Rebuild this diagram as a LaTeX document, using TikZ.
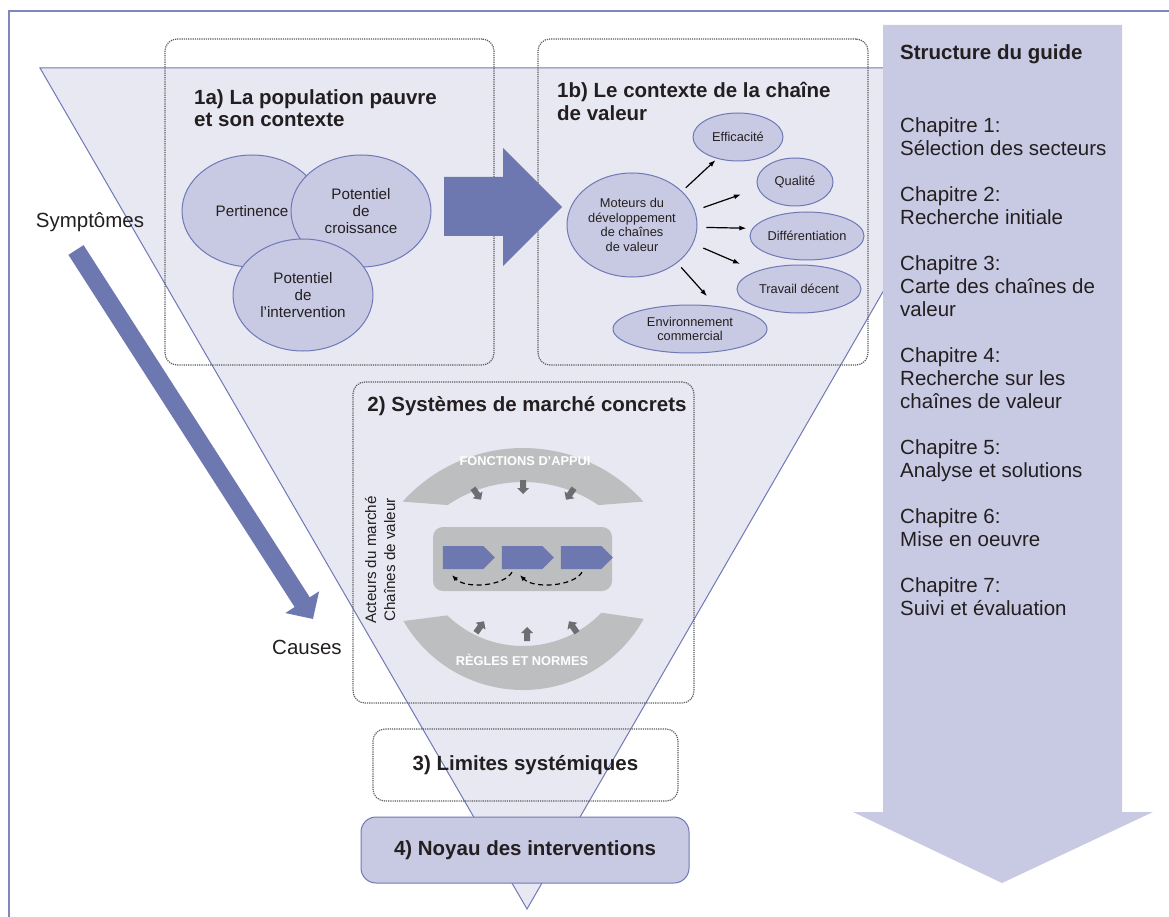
\documentclass[tikz,border=0pt]{standalone}
\usepackage{fontspec}
\setmainfont{Liberation Sans}
\usepackage{tikz, xcolor}
\usetikzlibrary{shapes,arrows.meta}

\definecolor{frameblue}{RGB}{128,134,190}
\definecolor{funnelfill}{RGB}{232,232,243}
\definecolor{funnelline}{RGB}{111,121,181}
\definecolor{lav}{RGB}{200,201,227}
\definecolor{arrowblue}{RGB}{109,120,176}
\definecolor{bandgray}{RGB}{189,190,192}
\definecolor{smallarr}{RGB}{109,110,113}
\definecolor{dotgray}{RGB}{88,89,91}
\definecolor{txt}{RGB}{35,31,32}

\begin{document}
\begin{tikzpicture}[x=1pt, y=-1pt, text=txt, font=\fontsize{20.5}{22.5}\selectfont]
\tikzstyle{boxd}=[rectangle, draw=dotgray, densely dotted, line width=1.2pt, rounded corners=12pt]
\tikzstyle{ellbig}=[ellipse, draw=funnelline, fill=lav, line width=1pt, inner sep=0pt, minimum width=140pt, minimum height=112pt, align=center, font=\fontsize{15.2}{17}\selectfont]
\tikzstyle{ellsmall}=[ellipse, draw=funnelline, fill=lav, line width=1pt, inner sep=0pt, minimum height=48pt, align=center, font=\fontsize{12.8}{14.5}\selectfont]
\tikzstyle{drawstyle}=[line width=1.2pt, -{Latex[length=7pt,width=5pt]}]
\tikzstyle{loopstyle}=[dash pattern=on 5pt off 3.5pt, line width=1.2pt, -{Latex[length=6pt,width=5pt]}]
\tikzstyle{chev}=[signal, signal to=east, fill=arrowblue, minimum width=52pt, minimum height=23pt, inner sep=0pt]
\tikzstyle{bandlabel}=[text=white, font=\fontsize{12.8}{14.5}\selectfont\bfseries]
\tikzstyle{titlestyle}=[font=\fontsize{20.5}{22.5}\selectfont\bfseries]

\useasboundingbox (0,0) rectangle (1169,917);
\clip (0,0) rectangle (1169,917);

% frame, funnel and guide arrow
\draw[frameblue, line width=2pt] (9,11) rectangle (1190,940);
\filldraw[fill=funnelfill, draw=funnelline, line width=1pt] (40,68) -- (1012,68) -- (527,909) -- cycle;
\fill[lav] (883,25) -- (1122,25) -- (1122,812) -- (1153,812) -- (1002,883) -- (853,812) -- (883,812) -- cycle;

% dotted boxes
\node[boxd, minimum width=329pt, minimum height=326pt] (B1a) at (329.5,202) {};
\node[boxd, minimum width=330pt, minimum height=326pt] (B1b) at (703,202) {};
\node[boxd, minimum width=341pt, minimum height=321pt] (B2) at (523.5,542.5) {};

% 1a
\node[titlestyle, anchor=north west, align=left, inner sep=0pt] (T1a) at (194,89) {1a) La population pauvre\\et son contexte};
\node[ellbig] (Epert) at (252,211) {Pertinence};
\node[ellbig] (Ecrois) at (361,211) {Potentiel\\de\\croissance};
\node[ellbig] (Einter) at (303,295) {Potentiel\\de\\l’intervention};

% big arrow 1a -> 1b
\fill[arrowblue] (444,177) -- (503,177) -- (503,148) -- (562,207) -- (503,266) -- (503,236) -- (444,236) -- cycle;

% 1b
\node[titlestyle, anchor=north west, align=left, inner sep=0pt] (T1b) at (557,82) {1b) Le contexte de la chaîne\\de valeur};
\node[ellsmall, minimum width=130pt, minimum height=104pt] (Emot) at (632,225) {Moteurs du\\développement\\de chaînes\\de valeur};
\node[ellsmall, minimum width=90pt] (Eeff) at (738,137) {Efficacité};
\node[ellsmall, minimum width=76pt] (Equal) at (795,182) {Qualité};
\node[ellsmall, minimum width=114pt] (Ediff) at (807,236) {Différentiation};
\node[ellsmall, minimum width=124pt] (Etrav) at (799,289) {Travail décent};
\node[ellsmall, minimum width=154pt] (Eenv) at (690,329) {Environnement\\commercial};
\draw[drawstyle, shorten <=5pt, shorten >=2pt] (Emot.34) -- (Eeff.226);
\draw[drawstyle, shorten <=9pt, shorten >=18pt] (Emot.13) -- (Equal.190);
\draw[drawstyle, shorten <=9pt, shorten >=6pt] (Emot.-2) -- (Ediff.172);
\draw[drawstyle, shorten <=11pt, shorten >=18pt] (Emot.-17) -- (Etrav.157);
\draw[drawstyle, shorten <=6pt, shorten >=13pt] (Emot.-40) -- (Eenv.42);

% 2
\node[titlestyle] (T2) at (527,406) {2) Systèmes de marché concrets};
\fill[bandgray] ([shift={(523,610)}]-138:162) arc[start angle=-138, end angle=-42, radius=162]
  -- ([shift={(523,617)}]-56:135) arc[start angle=-56, end angle=-124, radius=135] -- cycle;
\fill[bandgray] ([shift={(523,552)}]150:138) arc[start angle=150, end angle=29, radius=138]
  -- ([shift={(523,537)}]44:109) arc[start angle=44, end angle=134, radius=109] -- cycle;
\node[bandlabel] (Lfonc) at (525,461) {FONCTIONS D’APPUI};
\node[bandlabel] (Lregl) at (522,660) {RÈGLES ET NORMES};
\foreach \x/\y/\a in {477/494/-55, 523/487/-90, 570/494/-125, 480/627/55, 527/634/90, 573/627/125}
  \fill[smallarr, shift={(\x,\y)}, rotate=\a] (-7,-3) -- (1,-3) -- (1,-6) -- (7,0) -- (1,6) -- (1,3) -- (-7,3) -- cycle;
\node[rectangle, fill=bandgray, rounded corners=10pt, minimum width=179pt, minimum height=64pt] (VCbox) at (522.5,559) {};
\foreach \i/\x in {1/463, 2/522, 3/581}
  \node[chev] (vc\i) at (\x,557.5) {};
\draw[loopstyle] ([xshift=-10pt,yshift=-3pt]vc2.south) .. controls +(-8,14) and +(14,14) .. ([xshift=-11pt,yshift=-6pt]vc1.south);
\draw[loopstyle] ([xshift=1pt,yshift=-3pt]vc3.south) .. controls +(-8,14) and +(14,14) .. ([xshift=-2pt,yshift=-6pt]vc2.south);
\node[rotate=90, align=center, font=\fontsize{15.2}{19}\selectfont] (Tact) at (380,560) {Acteurs du marché\\Chaînes de valeur};

% 3 and 4
\node[boxd, titlestyle, minimum width=305pt, minimum height=72pt] (B3) at (525.5,765) {3) Limites systémiques};
\node[rectangle, rounded corners=15pt, draw=funnelline, fill=lav, line width=1pt, titlestyle, minimum width=328pt, minimum height=66pt] (B4) at (525,850) {4) Noyau des interventions};

% symptoms to causes
\node (Tsym) at (90,222) {Symptômes};
\node (Tcau) at (307,647) {Causes};
\coordinate (symA) at (76,250);
\coordinate (symB) at (313,619);
\draw[arrowblue, line width=18pt, -{Triangle[length=20pt,width=39pt]}] (symA) -- (symB);

% guide
\node[titlestyle, anchor=west, inner sep=0pt] (Tstruct) at (900,54) {Structure du guide};
\node[anchor=north west, inner sep=0pt, align=left, font=\fontsize{20.5}{23}\selectfont] (Tchap) at (900,117) {Chapitre 1:\\Sélection des secteurs\\[23pt]Chapitre 2:\\Recherche initiale\\[23pt]Chapitre 3:\\Carte des chaînes de\\valeur\\[23pt]Chapitre 4:\\Recherche sur les\\chaînes de valeur\\[23pt]Chapitre 5:\\Analyse et solutions\\[23pt]Chapitre 6:\\Mise en oeuvre\\[23pt]Chapitre 7:\\Suivi et évaluation};
\end{tikzpicture}
\end{document}
